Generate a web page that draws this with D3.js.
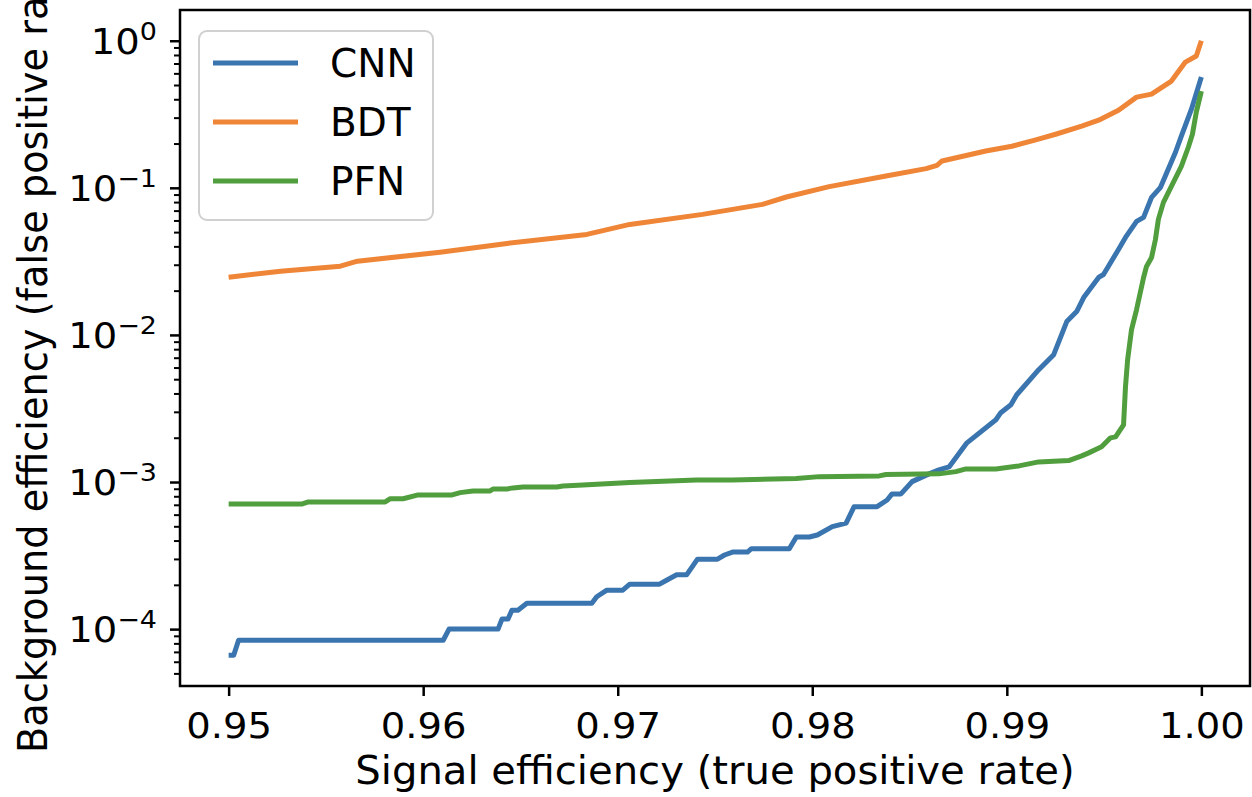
<!DOCTYPE html>
<html>
<head>
  <script src="https://d3js.org/d3.v7.min.js"></script>
  <style>
    body { margin: 0; background: #fff; }
    text { font-family: "DejaVu Sans", sans-serif; fill: #000; }
  </style>
</head>
<body>
<script>

  // ROC points: signal efficiency / background efficiency
  var cnnSig = [0.95, 0.95026, 0.95051, 0.96103, 0.96133, 0.96385, 0.96405, 0.96436, 0.96456, 0.96487,
    0.96533, 0.96867, 0.96892, 0.96944, 0.97026, 0.97062, 0.97215, 0.97251, 0.97303, 0.97354,
    0.97410, 0.97513, 0.97549, 0.97590, 0.97667, 0.97687, 0.97882, 0.97918, 0.97985, 0.98026,
    0.98103, 0.98174, 0.98215, 0.98333, 0.98385, 0.98410, 0.98456, 0.98513, 0.98600, 0.98651,
    0.98703, 0.98795, 0.98944, 0.98969, 0.99021, 0.99051, 0.99164, 0.99241, 0.99308, 0.99359,
    0.99395, 0.99472, 0.99497, 0.99574, 0.99610, 0.99667, 0.99703, 0.99744, 0.99790, 0.99867,
    0.99897, 0.99949, 1.0];
  var cnnBkg = [6.64e-5, 6.64e-5, 8.4e-5, 8.4e-5, 1.0e-4, 1.0e-4, 1.17e-4, 1.17e-4, 1.345e-4, 1.345e-4,
    1.5e-4, 1.5e-4, 1.66e-4, 1.84e-4, 1.84e-4, 2.02e-4, 2.02e-4, 2.15e-4, 2.34e-4, 2.34e-4,
    2.99e-4, 2.99e-4, 3.19e-4, 3.34e-4, 3.34e-4, 3.52e-4, 3.52e-4, 4.23e-4, 4.23e-4, 4.36e-4,
    4.97e-4, 5.26e-4, 6.8e-4, 6.8e-4, 7.55e-4, 8.3e-4, 8.3e-4, 1.006e-3, 1.136e-3, 1.209e-3,
    1.267e-3, 1.846e-3, 2.65e-3, 2.96e-3, 3.35e-3, 3.92e-3, 5.8e-3, 7.34e-3, 1.232e-2, 1.441e-2,
    1.795e-2, 2.457e-2, 2.575e-2, 3.81e-2, 4.6e-2, 5.91e-2, 6.3e-2, 8.61e-2, 0.1008, 0.1745,
    0.2243, 0.3424, 0.566];

  var bdtSig = [0.95, 0.95267, 0.95574, 0.95662, 0.96087, 0.96431, 0.96841, 0.97062, 0.97436, 0.97744,
    0.97867, 0.98087, 0.98379, 0.98585, 0.98641, 0.98667, 0.98892, 0.99026, 0.99149, 0.99251,
    0.99385, 0.99472, 0.99574, 0.99667, 0.99744, 0.99846, 0.99918, 0.99974, 1.0];
  var bdtBkg = [2.469e-2, 2.711e-2, 2.934e-2, 3.173e-2, 3.653e-2, 4.186e-2, 4.823e-2, 5.64e-2, 6.6e-2, 7.72e-2,
    8.66e-2, 0.1019, 0.1203, 0.1351, 0.1423, 0.1523, 0.1781, 0.1917, 0.2117, 0.2314,
    0.2624, 0.2884, 0.3372, 0.4135, 0.4334, 0.5316, 0.716, 0.7867, 1.0];

  var pfnSig = [0.95, 0.95379, 0.95410, 0.95805, 0.95831, 0.95897, 0.95974, 0.96149, 0.96190, 0.96256,
    0.96344, 0.96359, 0.96431, 0.96462, 0.96513, 0.96687, 0.96718, 0.96821, 0.97062, 0.97405,
    0.97590, 0.97918, 0.98036, 0.98344, 0.98379, 0.98651, 0.98738, 0.98790, 0.98944, 0.99062,
    0.99164, 0.99318, 0.99385, 0.99421, 0.99487, 0.99533, 0.99559, 0.99600, 0.99610, 0.99621,
    0.99641, 0.99667, 0.99703, 0.99718, 0.99744, 0.99764, 0.99779, 0.99805, 0.99856, 0.99897,
    0.99933, 0.99954, 0.99974, 1.0];
  var pfnBkg = [7.09e-4, 7.09e-4, 7.32e-4, 7.32e-4, 7.7e-4, 7.7e-4, 8.17e-4, 8.17e-4, 8.47e-4, 8.7e-4,
    8.7e-4, 8.97e-4, 8.97e-4, 9.12e-4, 9.26e-4, 9.26e-4, 9.4e-4, 9.55e-4, 9.91e-4, 1.033e-3,
    1.033e-3, 1.055e-3, 1.088e-3, 1.1e-3, 1.126e-3, 1.136e-3, 1.177e-3, 1.228e-3, 1.228e-3, 1.287e-3,
    1.37e-3, 1.399e-3, 1.506e-3, 1.578e-3, 1.734e-3, 1.997e-3, 2.028e-3, 2.449e-3, 4.44e-3, 6.79e-3,
    1.087e-2, 1.487e-2, 2.457e-2, 2.92e-2, 3.36e-2, 4.46e-2, 6.1e-2, 7.96e-2, 0.109, 0.14,
    0.1887, 0.2314, 0.3268, 0.4543];

  var seriesNames = ["CNN", "BDT", "PFN"];
  var seriesColors = ["#3b75af", "#ef8536", "#519e3e"];
  var xTicks = [0.95, 0.96, 0.97, 0.98, 0.99, 1.00];
  var yTickExps = [-4, -3, -2, -1, 0];

  var W = 1252, H = 797;
  var margin = {left: 180, top: 10, right: 2, bottom: 111};
  var width = W - margin.left - margin.right;
  var height = H - margin.top - margin.bottom;
  var fs = 36;         // tick label size
  var lfs = 38.3;      // axis label size
  var stretch = 1.07;  // the picture's text is a bit wider than it is tall

  var series = [
    {name: seriesNames[0], color: seriesColors[0], pts: d3.zip(cnnSig, cnnBkg)},
    {name: seriesNames[1], color: seriesColors[1], pts: d3.zip(bdtSig, bdtBkg)},
    {name: seriesNames[2], color: seriesColors[2], pts: d3.zip(pfnSig, pfnBkg)}
  ];

  // matplotlib style 5% margins (in log space for y)
  var allSig = cnnSig.concat(bdtSig, pfnSig);
  var allBkg = cnnBkg.concat(bdtBkg, pfnBkg);
  var xe = d3.extent(allSig), xpad = (xe[1] - xe[0]) * 0.05;
  var le = d3.extent(allBkg.map(Math.log10)), lpad = (le[1] - le[0]) * 0.05;

  var x = d3.scaleLinear().domain([xe[0] - xpad, xe[1] + xpad]).range([0, width]);
  var y = d3.scaleLog().domain([Math.pow(10, le[0] - lpad), Math.pow(10, le[1] + lpad)]).range([height, 0]);

  var svg = d3.select("body").append("svg")
    .attr("width", W)
    .attr("height", H);

  var g = svg.append("g")
    .attr("transform", "translate(" + margin.left + "," + margin.top + ")");

  /* x axis */
  var xAxis = g.append("g")
    .attr("transform", "translate(0," + height + ")")
    .call(d3.axisBottom(x).tickValues(xTicks).tickSize(10).tickPadding(16).tickFormat(d3.format(".2f")));
  xAxis.select(".domain").remove();
  xAxis.selectAll("line").attr("stroke", "#000").attr("stroke-width", 2.5);
  xAxis.selectAll("text")
    .attr("font-size", fs)
    .attr("font-family", "DejaVu Sans")
    .attr("transform", "scale(" + stretch + ",1)");

  /* y axis, major + minor ticks */
  var minor = [];
  for (var e = -5; e <= 0; e++) {
    for (var m = 2; m <= 9; m++) {
      var v = m * Math.pow(10, e);
      if (v >= y.domain()[0] && v <= y.domain()[1]) minor.push(v);
    }
  }
  var yMinor = g.append("g")
    .call(d3.axisLeft(y).tickValues(minor).tickSize(6).tickFormat(""));
  yMinor.select(".domain").remove();
  yMinor.selectAll("line").attr("stroke", "#000").attr("stroke-width", 2);

  var yMajor = g.append("g")
    .call(d3.axisLeft(y).tickValues(yTickExps.map(function(k){ return Math.pow(10, k); })).tickSize(10).tickFormat(""));
  yMajor.select(".domain").remove();
  yMajor.selectAll("line").attr("stroke", "#000").attr("stroke-width", 2.5);

  // 10^k labels with superscript
  var yLab = g.append("g").selectAll("text")
    .data(yTickExps)
    .enter()
    .append("text")
    .attr("transform", function(d){
      return "translate(-23," + (y(Math.pow(10, d)) + 13) + ") scale(" + stretch + ",1)";
    })
    .attr("text-anchor", "end")
    .attr("font-size", fs);
  yLab.append("tspan").text("10");
  yLab.append("tspan")
    .attr("dy", -14)
    .attr("font-size", fs * 0.7)
    .text(function(d){ return d === 0 ? "0" : "\u2212" + Math.abs(d); });

  /* curves */
  var line = d3.line()
    .x(function(d){ return x(d[0]); })
    .y(function(d){ return y(d[1]); });

  g.selectAll("path.curve")
    .data(series)
    .enter()
    .append("path")
    .attr("class", "curve")
    .attr("d", function(d){ return line(d.pts); })
    .attr("fill", "none")
    .attr("stroke", function(d){ return d.color; })
    .attr("stroke-width", 5)
    .attr("stroke-linejoin", "round");

  /* frame */
  g.append("rect")
    .attr("width", width)
    .attr("height", height)
    .attr("fill", "none")
    .attr("stroke", "#000")
    .attr("stroke-width", 2.5);

  /* legend */
  var leg = svg.append("g").attr("transform", "translate(199,31)");
  leg.append("rect")
    .attr("width", 234)
    .attr("height", 189)
    .attr("rx", 8)
    .attr("fill", "#fff")
    .attr("fill-opacity", 0.8)
    .attr("stroke", "#d0d0d0")
    .attr("stroke-width", 2);
  var item = leg.selectAll("g.item")
    .data(series)
    .enter()
    .append("g")
    .attr("class", "item")
    .attr("transform", function(d, i){ return "translate(0," + (32 + i * 59) + ")"; });
  item.append("line")
    .attr("x1", 14).attr("x2", 99)
    .attr("stroke", function(d){ return d.color; })
    .attr("stroke-width", 5);
  item.append("text")
    .attr("x", 131)
    .attr("y", 14)
    .attr("font-size", 39)
    .text(function(d){ return d.name; });

  /* axis labels */
  svg.append("text")
    .attr("transform", "translate(" + (margin.left + width / 2) + ",784) scale(" + (stretch * 37.5 / lfs) + ",1)")
    .attr("text-anchor", "middle")
    .attr("font-size", lfs)
    .text("Signal efficiency (true positive rate)");

  svg.append("text")
    .attr("transform", "translate(47," + (margin.top + height / 2) + ") scale(" + stretch + ",1) rotate(-90)")
    .attr("text-anchor", "middle")
    .attr("font-size", lfs)
    .text("Background efficiency (false positive rate)");

</script>
</body>
</html>
